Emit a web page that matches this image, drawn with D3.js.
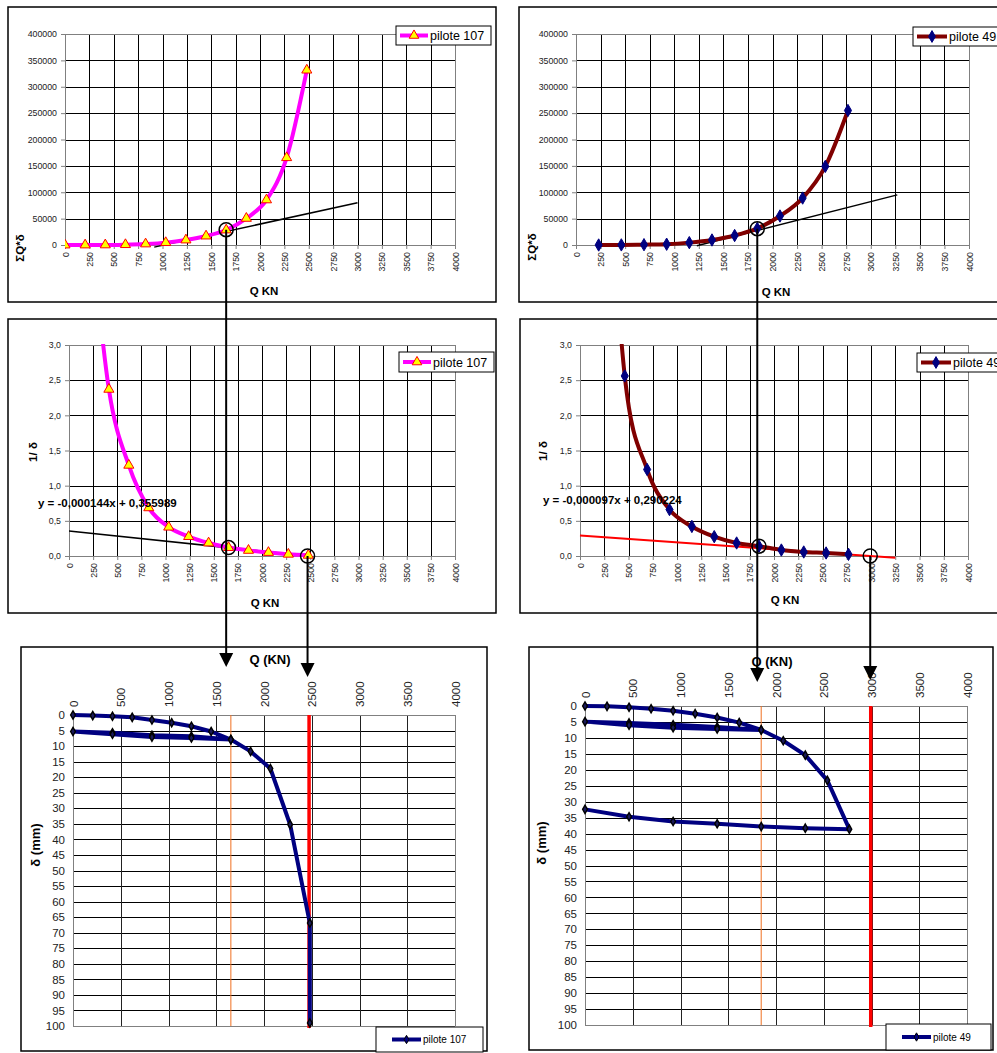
<!DOCTYPE html>
<html>
<head>
<meta charset="utf-8">
<script src="https://cdnjs.cloudflare.com/ajax/libs/d3/7.8.5/d3.min.js"></script>
<style>
  body { margin: 0; background: #fff; }
  svg text { font-family: "Liberation Sans", Arial, sans-serif; }
</style>
<title>pilotes 107 / 49</title>
</head>
<body>
<svg id="fig" width="997" height="1053"></svg>
<script>

// ---- data ----
var qTicks = d3.range(0, 4001, 250);
var qTicksBottom = d3.range(0, 4001, 500);
var sumTicks = d3.range(0, 400001, 50000);
var invTicks = [0, 0.5, 1, 1.5, 2, 2.5, 3];
var depthTicks = d3.range(0, 101, 5);

// pilote 107
var q107 = [0, 206.7, 413.3, 620, 826.7, 1033.3, 1240, 1446.7, 1653.3, 1860, 2066.7, 2273.3, 2480];
var sumQd107 = [0, 50, 200, 700, 2000, 4500, 9500, 17000, 28500, 50500, 85500, 165500, 331500];
var qInv107 = [206.7, 413.3, 620, 826.7, 1033.3, 1240, 1446.7, 1653.3, 1860, 2066.7, 2273.3, 2480];
var inv107 = [5.0, 2.37, 1.29, 0.685, 0.41, 0.276, 0.185, 0.12, 0.08, 0.05, 0.025, 0.01];
var qPath107 = [0, 206.7, 413.3, 620, 826.7, 1033.3, 1240, 1446.7, 1653.3, 1240, 826.7, 413.3, 0,
                413.3, 826.7, 1240, 1653.3, 1860, 2066.7, 2273.3, 2480, 2480];
var dPath107 = [0, 0.2, 0.4, 0.75, 1.6, 2.5, 3.6, 5.3, 7.9, 6.8, 6.5, 5.7, 5.3,
                6.2, 7.1, 7.4, 7.9, 11.7, 17.2, 35.2, 66.9, 99];
var tangentQ107 = [915, 3000];
var tangentV107 = [-4000, 80000];
var trendQ107 = [0, 2472];
var trendV107 = [0.356, 0];
var qc107 = 1653, sumC107 = 29000, invC107 = 0.12, qu107 = 2472;

// pilote 49
var q49 = [230.7, 461.3, 692, 922.7, 1153.3, 1384, 1614.7, 1845.3, 2076, 2306.7, 2537.3, 2768];
var sumQd49 = [20, 200, 600, 1500, 4500, 9500, 18000, 31500, 55000, 89000, 149000, 255000];
var inv49 = [7.0, 2.56, 1.23, 0.66, 0.42, 0.275, 0.185, 0.14, 0.085, 0.057, 0.043, 0.024];
var qPath49 = [0, 230.7, 461.3, 692, 922.7, 1153.3, 1384, 1614.7, 1845.3, 1384, 922.7, 461.3, 0,
               461.3, 922.7, 1384, 1845.3, 2076, 2306.7, 2537.3, 2768, 2306.7, 1845.3, 1384, 922.7, 461.3, 0];
var dPath49 = [0, 0.1, 0.4, 0.85, 1.5, 2.4, 3.6, 5.2, 7.5, 6.6, 5.9, 5.3, 4.9,
               6.0, 6.8, 7.2, 7.5, 10.9, 15.4, 23.3, 38.6, 38.3, 37.8, 36.9, 36.2, 34.7, 32.4];
var tangentQ49 = [1230, 3270];
var tangentV49 = [-1500, 95000];
var trendQ49 = [0, 3250];
var trendV49 = [0.290, -0.025];
var qc49 = 1845, sumC49 = 31000, invC49 = 0.14, qu49 = 2992;

var svg = d3.select("#fig");
var clipId = 0;

function commaFmt(d) { return d3.format(".1f")(d).replace(".", ","); }

function zip(a, b) { return a.map(function(v, i) { return [v, b[i]]; }); }

function frame(box) {
  svg.append("rect")
    .attr("x", box[0]).attr("y", box[1])
    .attr("width", box[2] - box[0]).attr("height", box[3] - box[1])
    .attr("fill", "#fff").attr("stroke", "#000").attr("stroke-width", 1.5);
}

function legend(box, label, o) {
  var g = svg.append("g");
  g.append("rect")
    .attr("x", box[0]).attr("y", box[1])
    .attr("width", box[2] - box[0]).attr("height", box[3] - box[1])
    .attr("fill", "#fff").attr("stroke", "#000").attr("stroke-width", 1);
  var cy = (box[1] + box[3]) / 2;
  g.append("line")
    .attr("x1", box[0] + o.pad).attr("x2", box[0] + o.pad + o.len)
    .attr("y1", cy).attr("y2", cy)
    .attr("stroke", o.color).attr("stroke-width", o.width);
  g.append("path")
    .attr("d", d3.symbol().type(o.symbol).size(o.size)())
    .attr("transform", "translate(" + (box[0] + o.pad + o.len / 2) + "," + cy + ")")
    .attr("fill", o.fill).attr("stroke", o.stroke).attr("stroke-width", 1);
  g.append("text")
    .attr("x", box[0] + o.pad + o.len + 2).attr("y", cy + o.fs * 0.36)
    .attr("font-size", o.fs).attr("fill", "#000")
    .text(label);
}

// top and middle panels (Excel style, smoothed series)
function topPanel(o) {
  frame(o.box);
  var p = o.plot;
  var x = d3.scaleLinear().domain([0, 4000]).range([p[0], p[2]]);
  var y = d3.scaleLinear().domain(o.yDomain).range([p[3], p[1]]);
  var g = svg.append("g");

  g.append("g").selectAll("line").data(o.yTicks).join("line")
    .attr("x1", p[0]).attr("x2", p[2])
    .attr("y1", function(d) { return Math.round(y(d)) + 0.5; })
    .attr("y2", function(d) { return Math.round(y(d)) + 0.5; })
    .attr("stroke", "#000").attr("stroke-width", 1);
  g.append("g").selectAll("line").data(qTicks).join("line")
    .attr("x1", function(d) { return Math.round(x(d)) + 0.5; })
    .attr("x2", function(d) { return Math.round(x(d)) + 0.5; })
    .attr("y1", p[1]).attr("y2", p[3])
    .attr("stroke", "#000").attr("stroke-width", 1);
  g.append("rect")
    .attr("x", p[0] + 0.5).attr("y", p[1] + 0.5)
    .attr("width", p[2] - p[0]).attr("height", p[3] - p[1])
    .attr("fill", "none").attr("stroke", "#808080");

  var xa = g.append("g").attr("transform", "translate(0," + p[3] + ")")
    .call(d3.axisBottom(x).tickValues(qTicks).tickSize(4).tickFormat(d3.format("d")));
  xa.selectAll("text")
    .attr("transform", "rotate(-90)").attr("text-anchor", "end")
    .attr("x", -7).attr("y", 0).attr("dy", "0.34em");
  var ya = g.append("g").attr("transform", "translate(" + p[0] + ",0)")
    .call(d3.axisLeft(y).tickValues(o.yTicks).tickSize(4).tickFormat(o.yFormat));
  ya.selectAll("text").attr("x", -8);
  [xa, ya].forEach(function(a) {
    a.select(".domain").attr("stroke", "#808080");
    a.selectAll(".tick line").attr("stroke", "#808080");
    a.selectAll("text").attr("font-family", "'DejaVu Sans', Verdana, sans-serif")
      .attr("font-size", 8.8).attr("fill", "#222");
  });

  g.append("text").attr("x", o.xLabel[0]).attr("y", o.xLabel[1])
    .attr("text-anchor", "middle").attr("font-weight", "bold").attr("font-size", 11.5)
    .text("Q KN");
  g.append("text")
    .attr("transform", "translate(" + o.yLabel[0] + "," + o.yLabel[1] + ") rotate(-90)")
    .attr("text-anchor", "middle").attr("font-weight", "bold").attr("font-size", 11.5)
    .text(o.yTitle);

  // straight helper line (tangent / trend)
  g.append("path")
    .attr("d", d3.line().x(function(d) { return x(d[0]); }).y(function(d) { return y(d[1]); })(zip(o.lineQ, o.lineV)))
    .attr("fill", "none").attr("stroke", o.lineColor).attr("stroke-width", o.lineWidth);

  // series, clipped to the plot area
  clipId++;
  svg.append("clipPath").attr("id", "clip" + clipId).append("rect")
    .attr("x", p[0]).attr("y", p[1] - 1).attr("width", p[2] - p[0]).attr("height", p[3] - p[1] + 8);
  var pts = zip(o.q, o.v);
  var s = g.append("g").attr("clip-path", "url(#clip" + clipId + ")");
  s.append("path")
    .attr("d", d3.line().curve(d3.curveCatmullRom.alpha(0))
      .x(function(d) { return x(d[0]); }).y(function(d) { return y(d[1]); })(pts))
    .attr("fill", "none").attr("stroke", o.color).attr("stroke-width", 4);
  s.selectAll("path.mk").data(pts.filter(function(d) { return d[1] <= o.yDomain[1]; }))
    .join("path").attr("class", "mk")
    .attr("d", d3.symbol().type(o.symbol).size(o.symSize)())
    .attr("transform", function(d) { return "translate(" + x(d[0]) + "," + y(d[1]) + ")"; })
    .attr("fill", o.fill).attr("stroke", o.stroke).attr("stroke-width", 1);

  if (o.equation) {
    g.append("text").attr("x", o.equation[0]).attr("y", o.equation[1])
      .attr("font-weight", "bold").attr("font-size", 11.5).text(o.equation[2]);
  }

  // marked points
  g.selectAll("circle.hit").data(o.circles).join("circle").attr("class", "hit")
    .attr("cx", function(d) { return x(d[0]); }).attr("cy", function(d) { return y(d[1]); })
    .attr("r", 7).attr("fill", "none").attr("stroke", "#000").attr("stroke-width", 1.5);

  legend(o.legendBox, o.name, o.legendStyle);
  return { x: x, y: y };
}

// bottom panels: settlement versus load, axis on top, depth downwards
function bottomPanel(o) {
  frame(o.box);
  var p = o.plot;
  var x = d3.scaleLinear().domain([0, 4000]).range([p[0], p[2]]);
  var y = d3.scaleLinear().domain([0, 100]).range([p[1], p[3]]);
  var g = svg.append("g");

  g.append("g").selectAll("line").data(depthTicks).join("line")
    .attr("x1", p[0]).attr("x2", p[2])
    .attr("y1", function(d) { return Math.round(y(d)) + 0.5; })
    .attr("y2", function(d) { return Math.round(y(d)) + 0.5; })
    .attr("stroke", "#000").attr("stroke-width", 1);
  g.append("g").selectAll("line").data(qTicksBottom).join("line")
    .attr("x1", function(d) { return Math.round(x(d)) + 0.5; })
    .attr("x2", function(d) { return Math.round(x(d)) + 0.5; })
    .attr("y1", p[1]).attr("y2", p[3])
    .attr("stroke", "#222").attr("stroke-width", 1);
  g.append("line").attr("x1", p[2] + 0.5).attr("x2", p[2] + 0.5).attr("y1", p[1]).attr("y2", p[3])
    .attr("stroke", "#808080");
  g.append("line").attr("x1", p[0]).attr("x2", p[2]).attr("y1", p[3] + 0.5).attr("y2", p[3] + 0.5)
    .attr("stroke", "#808080");

  var xa = g.append("g").attr("transform", "translate(0," + p[1] + ")")
    .call(d3.axisTop(x).tickValues(qTicksBottom).tickSize(0).tickFormat(d3.format("d")));
  xa.selectAll("text")
    .attr("transform", "rotate(-90)").attr("text-anchor", "start")
    .attr("x", 8).attr("y", 0).attr("dy", "0.35em");
  var ya = g.append("g").attr("transform", "translate(" + p[0] + ",0)")
    .call(d3.axisLeft(y).tickValues(depthTicks).tickSize(0).tickFormat(d3.format("d")));
  ya.selectAll("text").attr("x", -8);
  [xa, ya].forEach(function(a) {
    a.select(".domain").attr("stroke", "#808080");
    a.selectAll("text").attr("font-family", "Carlito, 'Liberation Sans', sans-serif")
      .attr("font-size", 11.5).attr("fill", "#222");
  });

  g.append("text").attr("x", o.title[0]).attr("y", o.title[1])
    .attr("text-anchor", "middle").attr("font-weight", "bold").attr("font-size", 13)
    .text("Q (KN)");
  g.append("text")
    .attr("transform", "translate(" + o.yLabel[0] + "," + o.yLabel[1] + ") rotate(-90)")
    .attr("text-anchor", "middle").attr("font-weight", "bold").attr("font-size", 13)
    .text("δ (mm)");

  // critical load (orange) and ultimate load (red)
  g.append("line").attr("x1", x(o.qc)).attr("x2", x(o.qc)).attr("y1", p[1]).attr("y2", p[3])
    .attr("stroke", "#f07020").attr("stroke-width", 1);
  g.append("line").attr("x1", x(o.qu)).attr("x2", x(o.qu)).attr("y1", p[1]).attr("y2", p[3] + 2)
    .attr("stroke", "#ff0000").attr("stroke-width", 3.5);

  var pts = zip(o.q, o.d);
  g.append("path")
    .attr("d", d3.line().x(function(d) { return x(d[0]); }).y(function(d) { return y(d[1]); })(pts))
    .attr("fill", "none").attr("stroke", "#000080").attr("stroke-width", 4)
    .attr("stroke-linejoin", "round");
  g.selectAll("path.mk").data(pts).join("path").attr("class", "mk")
    .attr("d", d3.symbol().type(d3.symbolDiamond).size(20)())
    .attr("transform", function(d) { return "translate(" + x(d[0]) + "," + y(d[1]) + ")"; })
    .attr("fill", "#1a1a5a").attr("stroke", "#000").attr("stroke-width", 1.4);

  legend(o.legendBox, o.name, {
    pad: 16, len: 29, color: "#000080", width: 4, symbol: d3.symbolDiamond, size: 20,
    fill: "#000080", stroke: "#000", fs: 10
  });
  return { x: x, y: y };
}

var magenta = {
  color: "#ff00ff", symbol: d3.symbolTriangle, symSize: 44, fill: "#ffff00", stroke: "#ff0000"
};
var brown = {
  color: "#800000", symbol: d3.symbolDiamond, symSize: 44, fill: "#000080", stroke: "#000080"
};
var legMagenta = { pad: 4, len: 28, color: "#ff00ff", width: 4, symbol: d3.symbolTriangle, size: 40, fill: "#ffff00", stroke: "#ff0000", fs: 12.5 };
var legBrown = { pad: 4, len: 30, color: "#800000", width: 4, symbol: d3.symbolDiamond, size: 40, fill: "#000080", stroke: "#000080", fs: 12.5 };

var p1 = topPanel(Object.assign({
  box: [8, 7, 496, 302], plot: [65, 34, 455, 245],
  yDomain: [0, 400000], yTicks: sumTicks, yFormat: d3.format("d"),
  xLabel: [264, 295], yLabel: [24, 248], yTitle: "ΣQ*δ",
  q: q107, v: sumQd107,
  lineQ: tangentQ107, lineV: tangentV107, lineColor: "#000", lineWidth: 1.5,
  circles: [[qc107, sumC107]],
  legendBox: [396, 26, 491, 45], name: "pilote 107", legendStyle: legMagenta
}, magenta));

var p2 = topPanel(Object.assign({
  box: [519, 7, 1010, 302], plot: [576, 34, 969, 245],
  yDomain: [0, 400000], yTicks: sumTicks, yFormat: d3.format("d"),
  xLabel: [776, 296], yLabel: [536, 247], yTitle: "ΣQ*δ",
  q: q49, v: sumQd49,
  lineQ: tangentQ49, lineV: tangentV49, lineColor: "#000", lineWidth: 1.5,
  circles: [[qc49, sumC49]],
  legendBox: [913, 27, 1010, 46], name: "pilote 49", legendStyle: legBrown
}, brown));

var p3 = topPanel(Object.assign({
  box: [8, 319, 496, 613], plot: [69, 345, 455, 556],
  yDomain: [0, 3], yTicks: invTicks, yFormat: commaFmt,
  xLabel: [265, 607], yLabel: [37, 452], yTitle: "1/ δ",
  q: qInv107, v: inv107,
  lineQ: trendQ107, lineV: trendV107, lineColor: "#000", lineWidth: 1.6,
  circles: [[qc107, invC107], [qu107, 0]],
  equation: [38, 507, "y = -0,000144x + 0,355989"],
  legendBox: [399, 352, 494, 372], name: "pilote 107", legendStyle: legMagenta
}, magenta));

var p4 = topPanel(Object.assign({
  box: [520, 319, 1010, 613], plot: [580, 345, 968, 556],
  yDomain: [0, 3], yTicks: invTicks, yFormat: commaFmt,
  xLabel: [785, 604], yLabel: [547, 451], yTitle: "1/ δ",
  q: q49, v: inv49,
  lineQ: trendQ49, lineV: trendV49, lineColor: "#ff0000", lineWidth: 2,
  circles: [[qc49, invC49], [qu49, 0]],
  equation: [543, 504, "y = -0,000097x + 0,290224"],
  legendBox: [917, 353, 1010, 372], name: "pilote 49", legendStyle: legBrown
}, brown));

bottomPanel({
  box: [21, 647, 487, 1051], plot: [73, 715, 455, 1026],
  title: [270, 664], yLabel: [40, 845],
  q: qPath107, d: dPath107, qc: qc107, qu: qu107,
  legendBox: [376, 1027, 483, 1052], name: "pilote 107"
});
bottomPanel({
  box: [529, 647, 993, 1050], plot: [585, 706, 967, 1025],
  title: [772, 666], yLabel: [546, 843],
  q: qPath49, d: dPath49, qc: qc49, qu: qu49,
  legendBox: [886, 1024, 991, 1050], name: "pilote 49"
});

// drop lines from the marked points down to the settlement charts
function dropArrow(xp, yFrom, yTip) {
  svg.append("line").attr("x1", xp).attr("x2", xp).attr("y1", yFrom).attr("y2", yTip - 10)
    .attr("stroke", "#000").attr("stroke-width", 2);
  svg.append("path")
    .attr("d", "M" + (xp - 7) + "," + (yTip - 14) + "L" + (xp + 7) + "," + (yTip - 14) + "L" + xp + "," + yTip + "Z")
    .attr("fill", "#000");
}
dropArrow(p1.x(qc107), p1.y(sumC107), 667);
dropArrow(p3.x(qu107), p3.y(0), 677);
dropArrow(p2.x(qc49), p2.y(sumC49), 682);
dropArrow(p4.x(qu49), p4.y(0), 680);

</script>
</body>
</html>
